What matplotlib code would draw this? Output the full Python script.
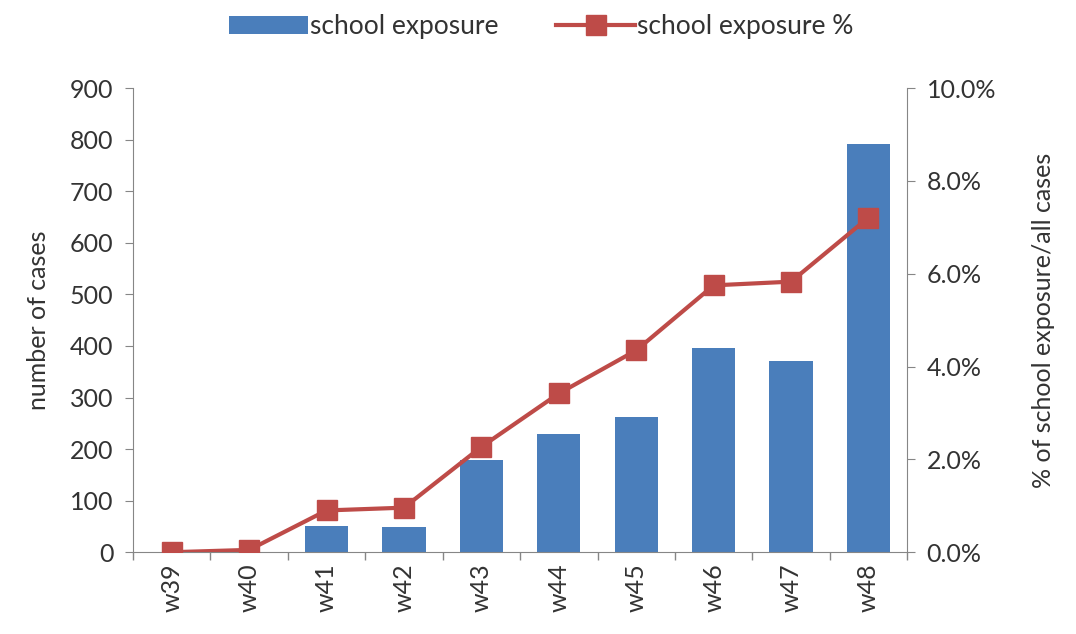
import numpy as np
import matplotlib.pyplot as plt
from matplotlib.ticker import FuncFormatter, FixedLocator

weeks = ['w39', 'w40', 'w41', 'w42', 'w43', 'w44', 'w45', 'w46', 'w47', 'w48']
cases = [0, 1, 51, 48, 178, 229, 263, 396, 370, 791]
pct = [0.0, 0.05, 0.9, 0.96, 2.27, 3.42, 4.35, 5.75, 5.83, 7.21]

plt.rcParams['font.family'] = ['Lato', 'DejaVu Sans']
blue = '#4A7EBB'
red = '#BE4B48'
grey = '#868686'
txt = '#333333'
fs = 18

fig = plt.figure(figsize=(10.76, 6.34), dpi=100)
ax = fig.add_axes([0.1236, 0.129, 0.7195, 0.732])
x = np.arange(len(weeks))

bars = ax.bar(x, cases, width=0.56, color=blue, label='school exposure', zorder=2)
ax.set_xlim(-0.5, len(weeks) - 0.5)
ax.set_ylim(0, 900)
ax.set_yticks(range(0, 901, 100))
ax.set_ylabel('number of cases', fontsize=fs, color=txt, labelpad=14)

ax2 = ax.twinx()
line, = ax2.plot(x, pct, color=red, lw=3, marker='s', ms=15, mfc=red, mec=red,
                 label='school exposure %', zorder=3)
ax2.set_ylim(0, 10)
ax2.set_yticks(np.arange(0, 10.1, 2))
ax2.yaxis.set_major_formatter(FuncFormatter(lambda v, p: f'{v:.1f}%'))
ax2.set_ylabel('% of school exposure/all cases', fontsize=fs, color=txt, labelpad=26)

ax.set_xticks(x)
ax.set_xticklabels(weeks, rotation=90, fontsize=fs, color=txt)
ax.tick_params(axis='x', which='major', length=0, pad=8)
ax.xaxis.set_minor_locator(FixedLocator(np.arange(-0.5, len(weeks), 1)))
ax.tick_params(axis='x', which='minor', length=6, color=grey, width=1)
ax.tick_params(axis='y', labelsize=fs, labelcolor=txt, color=grey, length=6, pad=8)
ax2.tick_params(axis='y', labelsize=fs, labelcolor=txt, color=grey, length=6, pad=8)

for a in (ax, ax2):
    a.spines['top'].set_visible(False)
    for s in ('left', 'right', 'bottom'):
        a.spines[s].set_color(grey)
ax.spines['right'].set_visible(False)
ax2.spines['left'].set_visible(False)
ax2.spines['bottom'].set_visible(False)

fig.legend(handles=[bars, line], loc='upper center', bbox_to_anchor=(0.503, 1.015),
           ncol=2, frameon=False, fontsize=19, handlelength=3.0, handletextpad=0.05,
           columnspacing=2.2, labelcolor=txt)

fig.savefig('out.png', dpi=100)
